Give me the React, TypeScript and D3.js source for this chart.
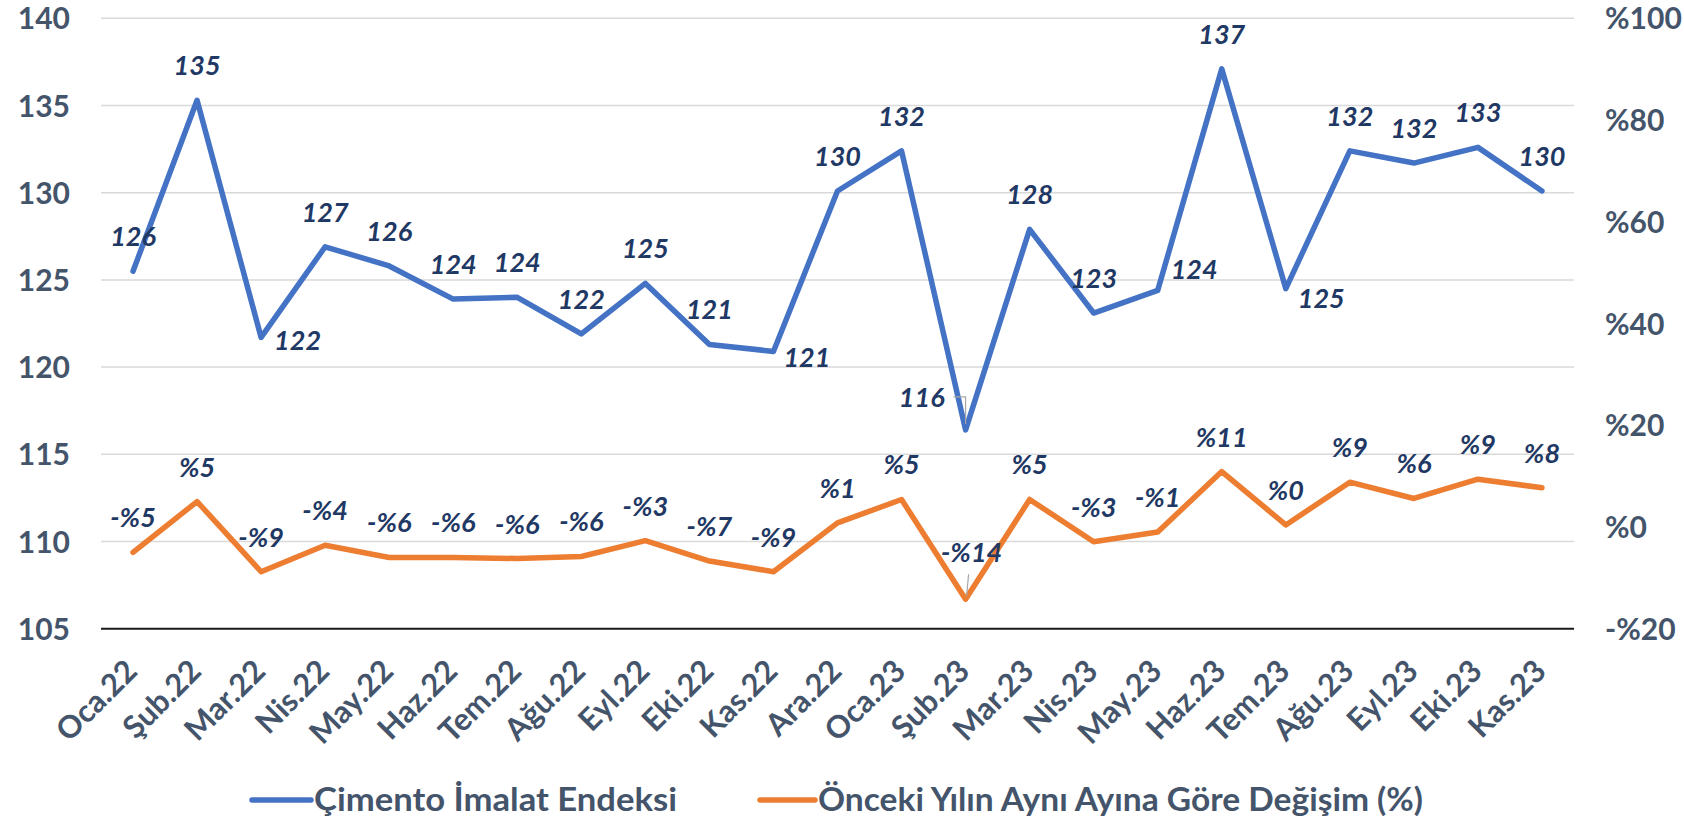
import React from "react";
import * as d3 from "d3";

const categories = ["Oca.22","Şub.22","Mar.22","Nis.22","May.22","Haz.22","Tem.22","Ağu.22","Eyl.22","Eki.22","Kas.22","Ara.22","Oca.23","Şub.23","Mar.23","Nis.23","May.23","Haz.23","Tem.23","Ağu.23","Eyl.23","Eki.23","Kas.23"];
const indexValues = [125.5,135.3,121.7,126.9,125.8,123.9,124.0,121.9,124.8,121.3,120.9,130.1,132.4,116.4,127.9,123.1,124.4,137.1,124.5,132.4,131.7,132.6,130.1];
const changeValues = [-5.0,5.0,-8.8,-3.6,-6.0,-6.0,-6.2,-5.8,-2.7,-6.7,-8.8,0.8,5.4,-14.2,5.4,-2.9,-1.0,10.9,0.4,8.8,5.6,9.4,7.7];
const leftTicks = [105,110,115,120,125,130,135,140];
const rightTicks = [-20,0,20,40,60,80,100];
const seriesNames = ["Çimento İmalat Endeksi", "Önceki Yılın Aynı Ayına Göre Değişim (%)"];

const W = 1684, H = 821;
const FONT = "Lato, 'Open Sans', sans-serif";
const TICK_COLOR = "#44546A";
const LABEL_COLOR = "#1F3864";
const BLUE = "#4472C4";
const ORANGE = "#ED7D31";

const fmtPct = (v: number) => (v < 0 ? "-%" : "%") + Math.round(Math.abs(v));

export default function App() {
  const x = d3.scaleBand<string>().domain(categories).range([101, 1574]);
  const cx = (c: string) => (x(c) as number) + x.bandwidth() / 2;
  const yL = d3.scaleLinear().domain([105, 140]).range([628.7, 18.3]);
  const yR = d3.scaleLinear().domain([-20, 100]).range([628.7, 18.3]);

  const lineL = d3.line<number>().x((_, i) => cx(categories[i])).y((d) => yL(d));
  const lineR = d3.line<number>().x((_, i) => cx(categories[i])).y((d) => yR(d));

  const bluePlace: Record<number, { anchor: string; dx: number; dy: number; leader?: boolean }> = {
    2: { anchor: "start", dx: 13, dy: 3 },
    10: { anchor: "start", dx: 10, dy: 6 },
    13: { anchor: "end", dx: -21, dy: -33, leader: true },
    16: { anchor: "start", dx: 13, dy: -21 },
    18: { anchor: "start", dx: 12, dy: 9 },
  };
  const orangePlace: Record<number, { anchor: string; dx: number; dy: number; leader?: boolean }> = {
    13: { anchor: "middle", dx: 6, dy: -47, leader: true },
  };
  const capHalf = 10;

  return (
    <svg width={W} height={H} style={{ position: "fixed", left: 0, top: 0, background: "#fff" }} fontFamily={FONT}>
      {leftTicks.filter((t) => t !== 105).map((t) => (
        <line key={"g" + t} x1={101} x2={1574} y1={yL(t)} y2={yL(t)} stroke="#D9D9D9" strokeWidth={1.5} />
      ))}
      <line x1={101} x2={1574} y1={yL(105)} y2={yL(105)} stroke="#1a1a1a" strokeWidth={2} />

      {leftTicks.map((t) => (
        <text key={"l" + t} x={70} y={yL(t) + 11} textAnchor="end" fontSize={30} fontWeight="bold" fill={TICK_COLOR}>{t}</text>
      ))}
      {rightTicks.map((t) => (
        <text key={"r" + t} x={1605} y={yR(t) + 11} textAnchor="start" fontSize={30} fontWeight="bold" fill={TICK_COLOR}>{fmtPct(t)}</text>
      ))}
      {categories.map((c) => {
        const ax = cx(c) + 6, ay = 673;
        return (
          <text key={"x" + c} x={ax} y={ay} transform={`rotate(-45 ${ax} ${ay})`} textAnchor="end" fontSize={31} fontWeight="bold" fill={TICK_COLOR}>{c}</text>
        );
      })}

      <path d={lineR(changeValues) || ""} fill="none" stroke={ORANGE} strokeWidth={5.5} strokeLinejoin="round" strokeLinecap="round" />
      <path d={lineL(indexValues) || ""} fill="none" stroke={BLUE} strokeWidth={5.5} strokeLinejoin="round" strokeLinecap="round" />

      {indexValues.map((v, i) => {
        const px = cx(categories[i]), py = yL(v);
        const p = bluePlace[i] || { anchor: "middle", dx: 0, dy: -35 };
        const lx = px + p.dx, ly = py + p.dy;
        return (
          <g key={"bl" + i}>
            {p.leader && (
              <path d={`M${lx + 9},${ly} H${px} V${py - 6}`} fill="none" stroke="#A6A6A6" strokeWidth={1.2} />
            )}
            <text x={lx} y={ly + capHalf} textAnchor={p.anchor as any} fontSize={27} fontWeight="bold" fontStyle="italic" fill={LABEL_COLOR}>{Math.round(v)}</text>
          </g>
        );
      })}
      {changeValues.map((v, i) => {
        const px = cx(categories[i]), py = yR(v);
        const p = orangePlace[i] || { anchor: "middle", dx: 0, dy: -35 };
        const lx = px + p.dx, ly = py + p.dy;
        return (
          <g key={"ol" + i}>
            {p.leader && (
              <line x1={px + 3} y1={ly + 22} x2={px + 1} y2={py - 3} stroke="#A6A6A6" strokeWidth={1.2} />
            )}
            <text x={lx} y={ly + capHalf} textAnchor={p.anchor as any} fontSize={27} fontWeight="bold" fontStyle="italic" fill={LABEL_COLOR}>{fmtPct(v)}</text>
          </g>
        );
      })}

      <line x1={252} x2={311} y1={800} y2={800} stroke={BLUE} strokeWidth={5.5} strokeLinecap="round" />
      <text x={314} y={811} fontSize={32} fontWeight="bold" fill={TICK_COLOR} textLength={363} lengthAdjust="spacingAndGlyphs">{seriesNames[0]}</text>
      <line x1={760} x2={815} y1={800} y2={800} stroke={ORANGE} strokeWidth={5.5} strokeLinecap="round" />
      <text x={818} y={811} fontSize={32} fontWeight="bold" fill={TICK_COLOR} textLength={605} lengthAdjust="spacingAndGlyphs">{seriesNames[1]}</text>
    </svg>
  );
}
